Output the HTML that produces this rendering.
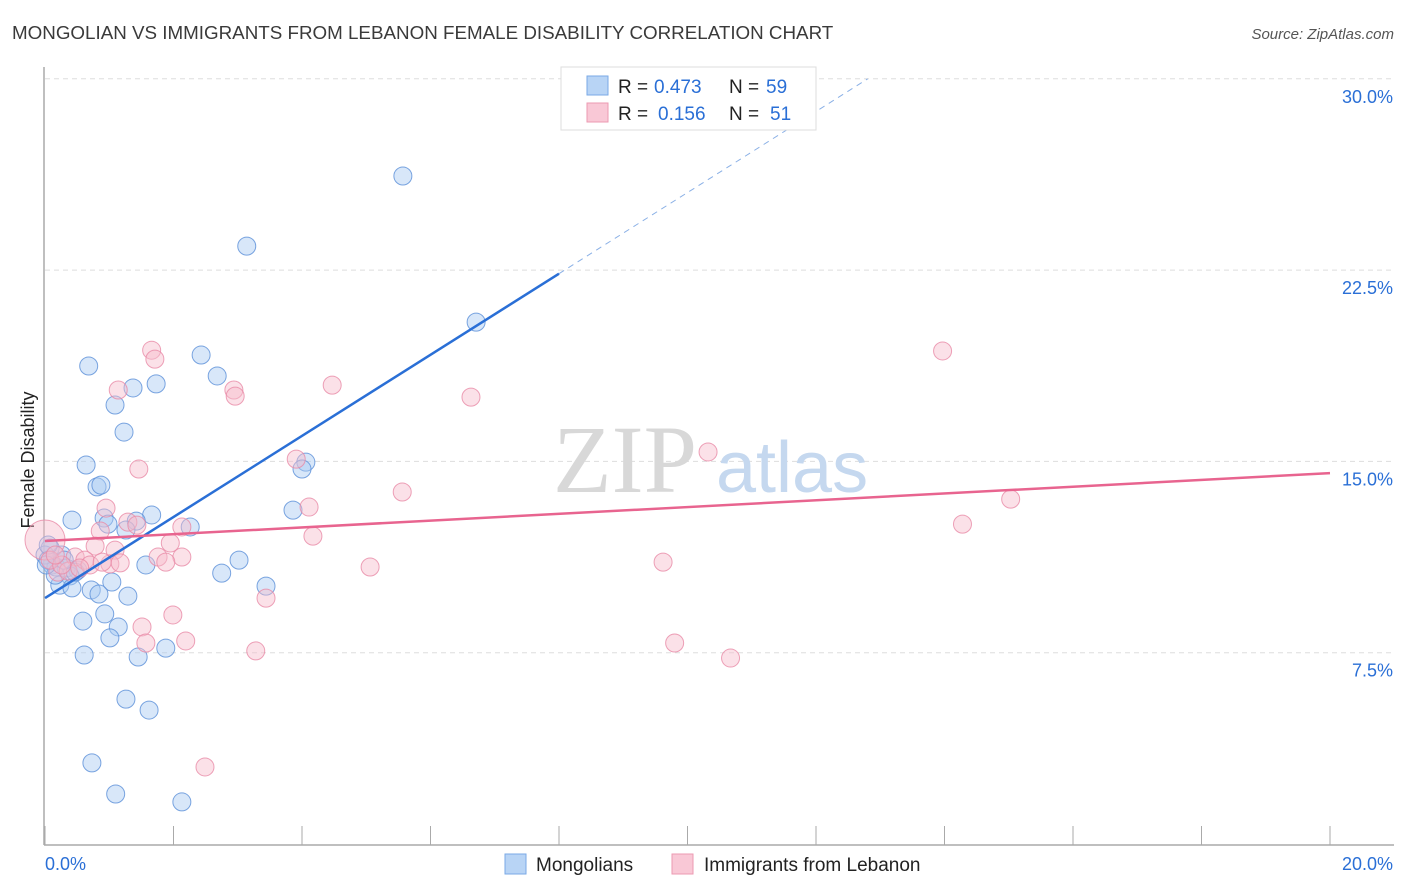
<!DOCTYPE html>
<html><head><meta charset="utf-8">
<style>
body{margin:0;background:#fff;font-family:"Liberation Sans",sans-serif;}
#wrap{position:relative;width:1406px;height:892px;overflow:hidden;}
</style></head>
<body><div id="wrap">
<svg id="svg" width="1406" height="892" xmlns="http://www.w3.org/2000/svg">
<text x="12" y="39" font-size="18.8" fill="#3a3a3a">MONGOLIAN VS IMMIGRANTS FROM LEBANON FEMALE DISABILITY CORRELATION CHART</text>
<text x="1394" y="39" font-size="15" fill="#555" font-style="italic" text-anchor="end">Source: ZipAtlas.com</text>
<text x="34" y="460" font-size="18" fill="#222" text-anchor="middle" transform="rotate(-90 34 460)">Female Disability</text>
<g id="grid"></g>
<g id="axes"></g>
<text x="553" y="492" font-size="96" fill="#d8d8d8" font-family="Liberation Serif,serif">ZIP</text>
<text x="716" y="492" font-size="72" fill="#c5d8ef">atlas</text>
<g id="pts"></g>
<g id="lines"></g>
<g>
<rect x="561" y="67" width="255" height="63" fill="#fff" stroke="#ddd"/>
<rect x="587" y="76" width="21" height="19" fill="#b8d4f5" stroke="#7aa9e6"/>
<rect x="587" y="103" width="21" height="19" fill="#f9c8d6" stroke="#ec9ab2"/>
<text x="618" y="93" font-size="19" fill="#222">R =</text>
<text x="654" y="93" font-size="19" fill="#2a6fd6">0.473</text>
<text x="729" y="93" font-size="19" fill="#222">N =</text>
<text x="766" y="93" font-size="19" fill="#2a6fd6">59</text>
<text x="618" y="120" font-size="19" fill="#222">R =</text>
<text x="658" y="120" font-size="19" fill="#2a6fd6">0.156</text>
<text x="729" y="120" font-size="19" fill="#222">N =</text>
<text x="770" y="120" font-size="19" fill="#2a6fd6">51</text>
</g>
<g>
<rect x="505" y="854" width="21" height="20" fill="#b8d4f5" stroke="#7aa9e6"/>
<text x="536" y="871" font-size="19" fill="#222">Mongolians</text>
<rect x="672" y="854" width="21" height="20" fill="#f9c8d6" stroke="#ec9ab2"/>
<text x="704" y="871" font-size="19" fill="#222">Immigrants from Lebanon</text>
</g>
</svg>
</div>
<script>
const yTicks=[7.5,15,22.5,30];
const yTickLabels=["7.5%","15.0%","22.5%","30.0%"];
const xTickLabels=["0.0%","20.0%"];
const blueX=[5.57,3.14,6.71,0.68,2.43,2.68,1.73,1.37,1.09,1.23,0.64,0.81,0.87,4.06,4.00,3.86,1.66,0.42,0.92,0.98,1.42,2.26,1.26,0.08,0.26,3.02,1.57,0.11,0.17,0.33,0.51,0.39,0.23,0.42,1.04,0.72,0.84,1.29,3.44,2.75,0.59,0.93,1.14,1.01,1.88,0.61,1.45,1.26,1.62,0.73,1.10,2.13,0.0,0.05,0.16,0.47,0.30,0.05,0.02];
const blueY=[26.19,23.44,20.46,18.74,19.17,18.35,18.04,17.88,17.21,16.15,14.86,14.00,14.07,14.97,14.70,13.09,12.90,12.70,12.78,12.54,12.66,12.43,12.31,11.60,11.33,11.13,10.94,10.94,10.86,10.82,10.74,10.51,10.15,10.04,10.27,9.96,9.80,9.72,10.11,10.62,8.74,9.02,8.51,8.08,7.68,7.41,7.33,5.68,5.25,3.18,1.96,1.65,11.33,11.13,10.54,10.66,11.13,11.72,10.94];
const pinkX=[0.0,1.66,1.71,1.14,2.94,2.96,4.47,6.63,13.97,1.46,3.91,5.56,10.32,15.03,14.28,0.95,4.11,1.29,1.43,0.86,2.13,4.17,0.78,1.09,1.95,1.76,2.13,0.47,0.62,1.01,1.88,5.06,9.62,0.20,0.36,3.44,1.51,1.99,1.57,2.19,3.28,9.80,10.67,2.49,0.08,0.26,0.70,0.54,0.89,1.17,0.16];
const pinkY=[11.92,19.36,19.01,17.80,17.80,17.56,17.99,17.52,19.33,14.70,15.09,13.80,15.37,13.52,12.54,13.17,13.21,12.62,12.50,12.27,12.43,12.07,11.68,11.52,11.80,11.25,11.25,11.25,11.13,10.98,11.05,10.86,11.05,10.66,10.70,9.64,8.51,8.98,7.88,7.96,7.57,7.88,7.29,3.02,11.13,10.94,10.94,10.82,11.05,11.02,11.33];
const blueTrend=[9.64,1.59]; // intercept, slope
const pinkTrend=[11.88,0.133];
const NS="http://www.w3.org/2000/svg";
const X=v=>45+v/20*1285, Y=v=>844-v/7.5*191.3;
function mk(tag,attrs,parent){const e=document.createElementNS(NS,tag);for(const k in attrs)e.setAttribute(k,attrs[k]);parent.appendChild(e);return e;}
const grid=document.getElementById('grid'),axes=document.getElementById('axes'),pts=document.getElementById('pts'),lines=document.getElementById('lines');
yTicks.forEach((t,i)=>{
 const l=mk('line',{x1:45,x2:1394,y1:Y(t),y2:Y(t),stroke:'#ddd','stroke-dasharray':'5,4'},grid);
 
 
 const tx=mk('text',{x:1393,y:Y(t)+24,'font-size':18,fill:'#2a6fd6','text-anchor':'end'},grid);
 tx.textContent=yTickLabels[i];
 
 
});
mk('line',{x1:44,x2:44,y1:67,y2:845,stroke:'#aaa','stroke-width':1.5},axes);
mk('line',{x1:44,x2:1394,y1:845,y2:845,stroke:'#aaa','stroke-width':1.5},axes);
for(let i=0;i<=10;i++){mk('line',{x1:X(i*2),x2:X(i*2),y1:826,y2:845,stroke:'#aaa'},axes);}
[[0,'start',45],[1,'end',1393]].forEach(([i,a,x])=>{const t=mk('text',{x:x,y:870,'font-size':18,fill:'#2a6fd6','text-anchor':a},axes);t.textContent=xTickLabels[i];
 
 });
function dots(xs,ys,fill,stroke,name){xs.forEach((x,i)=>{const c=mk('circle',{cx:X(x),cy:Y(ys[i]),r:(name==='pink-point'&&i===0)?20:9,fill:fill,'fill-opacity':0.45,stroke:stroke,'stroke-opacity':0.8,'stroke-width':1},pts);
 
 });}
dots(blueX,blueY,'#a9c9f2','#5a8fd8','blue-point');
dots(pinkX,pinkY,'#f7bccd','#e889a6','pink-point');
const bEnd=8;const bDashEnd=(30-blueTrend[0])/blueTrend[1];
const b1=mk('line',{x1:X(0),y1:Y(blueTrend[0]),x2:X(bEnd),y2:Y(blueTrend[0]+blueTrend[1]*bEnd),stroke:'#2a6fd6','stroke-width':2.5},lines);


const b2=mk('line',{x1:X(bEnd),y1:Y(blueTrend[0]+blueTrend[1]*bEnd),x2:X(bDashEnd),y2:Y(30),stroke:'#8ab0e6','stroke-width':1,'stroke-dasharray':'6,5'},lines);


const p1=mk('line',{x1:X(0),y1:Y(pinkTrend[0]),x2:X(20),y2:Y(pinkTrend[0]+pinkTrend[1]*20),stroke:'#e8648f','stroke-width':2.5},lines);


</script>
</body></html>
